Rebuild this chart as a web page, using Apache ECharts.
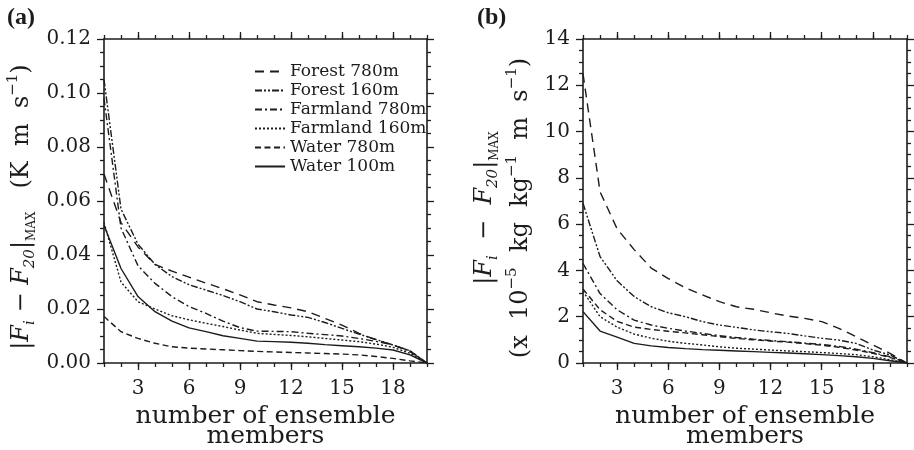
<!DOCTYPE html>
<html>
<head>
<meta charset="utf-8">
<script src="https://cdn.jsdelivr.net/npm/echarts@6/dist/echarts.min.js"></script>
<style>
  html, body { margin: 0; padding: 0; background: #ffffff; }
  #chart { width: 914px; height: 450px; }
</style>
</head>
<body>
<div id="chart"></div>
<script>
// Ensemble size on the x axis
const members = [1, 2, 3, 4, 5, 6, 7, 8, 9, 10, 11, 12, 13, 14, 15, 16, 17, 18, 19, 20];
const xTickValues = [3, 6, 9, 12, 15, 18];

const seriesNames = ['Forest 780m', 'Forest 160m', 'Farmland 780m', 'Farmland 160m', 'Water 780m', 'Water 100m'];

// (a) heat flux convergence, K m s^-1
const heatForest780   = [0.070, 0.052, 0.043, 0.0365, 0.034, 0.0318, 0.0296, 0.0275, 0.0252, 0.0227, 0.0215, 0.0204, 0.0190, 0.0165, 0.0140, 0.0110, 0.0086, 0.0066, 0.0045, 0];
const heatForest160   = [0.105, 0.057, 0.044, 0.0365, 0.032, 0.0290, 0.0270, 0.0250, 0.0227, 0.0200, 0.0190, 0.0178, 0.0169, 0.0150, 0.0128, 0.0107, 0.0087, 0.0067, 0.0045, 0];
const heatFarmland780 = [0.098, 0.050, 0.036, 0.0295, 0.0246, 0.0209, 0.0184, 0.0155, 0.0131, 0.0118, 0.0117, 0.0116, 0.0110, 0.0105, 0.0100, 0.0091, 0.0080, 0.0067, 0.0042, 0];
const heatFarmland160 = [0.052, 0.030, 0.0227, 0.0200, 0.0175, 0.0160, 0.0147, 0.0135, 0.0122, 0.0110, 0.0106, 0.0102, 0.0097, 0.0091, 0.0085, 0.0079, 0.0070, 0.0058, 0.0036, 0];
const heatWater780    = [0.0172, 0.0116, 0.0091, 0.0073, 0.0060, 0.0055, 0.0052, 0.0049, 0.0046, 0.0043, 0.0041, 0.0039, 0.0037, 0.0035, 0.0033, 0.0030, 0.0024, 0.0017, 0.0008, 0];
const heatWater100    = [0.051, 0.035, 0.0246, 0.0190, 0.0155, 0.0130, 0.0116, 0.0101, 0.0091, 0.0081, 0.0079, 0.0077, 0.0073, 0.0068, 0.0064, 0.0060, 0.0055, 0.0048, 0.0030, 0];

// (b) moisture flux convergence, x 10^-5 kg kg^-1 m s^-1
const moistForest780   = [12.5, 7.4, 5.8, 4.9, 4.1, 3.65, 3.25, 2.94, 2.65, 2.43, 2.32, 2.17, 2.03, 1.93, 1.79, 1.50, 1.14, 0.78, 0.42, 0];
const moistForest160   = [6.9, 4.6, 3.55, 2.87, 2.43, 2.17, 2.00, 1.79, 1.64, 1.54, 1.43, 1.35, 1.28, 1.17, 1.07, 0.99, 0.85, 0.56, 0.35, 0];
const moistFarmland780 = [4.3, 3.0, 2.3, 1.85, 1.64, 1.50, 1.38, 1.28, 1.18, 1.10, 1.03, 0.97, 0.92, 0.86, 0.80, 0.72, 0.60, 0.45, 0.27, 0];
const moistFarmland160 = [3.1, 2.0, 1.55, 1.25, 1.07, 0.94, 0.85, 0.78, 0.70, 0.64, 0.60, 0.56, 0.52, 0.49, 0.45, 0.41, 0.36, 0.27, 0.14, 0];
const moistWater780    = [3.2, 2.3, 1.8, 1.55, 1.45, 1.37, 1.30, 1.22, 1.14, 1.06, 1.00, 0.95, 0.90, 0.84, 0.77, 0.68, 0.56, 0.42, 0.24, 0];
const moistWater100    = [2.22, 1.38, 1.12, 0.85, 0.74, 0.67, 0.62, 0.58, 0.55, 0.52, 0.49, 0.46, 0.43, 0.40, 0.36, 0.32, 0.27, 0.20, 0.10, 0];

const panelA = [heatForest780, heatForest160, heatFarmland780, heatFarmland160, heatWater780, heatWater100];
const panelB = [moistForest780, moistForest160, moistFarmland780, moistFarmland160, moistWater780, moistWater100];

const INK = '#1c1c1c';
const FONT = 'DejaVu Serif';

// line patterns per site
const dashes = {
  'Forest 780m':   [9, 6],
  'Forest 160m':   [7, 2, 2, 2, 2, 2],
  'Farmland 780m': [7, 3, 2, 3],
  'Farmland 160m': [2, 2],
  'Water 780m':    [6, 3.5],
  'Water 100m':    'solid'
};

// fixed plot boxes; no automatic shrinking to fit the axis names
const grids = [
  { left: 104, top: 39, width: 323, height: 324, containLabel: false, outerBoundsMode: 'none' },
  { left: 583, top: 39, width: 324, height: 324, containLabel: false, outerBoundsMode: 'none' }
];

const frameLine = { show: true, onZero: false, lineStyle: { color: INK, width: 1.6 } };
const tickStyle = { color: INK, width: 1.3 };

function xAxesFor(g) {
  const base = { type: 'value', gridIndex: g, min: 1, max: 20, splitLine: { show: false } };
  return [
    Object.assign({}, base, {
      position: 'bottom',
      axisLine: frameLine,
      axisTick: { show: true, customValues: xTickValues, length: 7, lineStyle: tickStyle },
      axisLabel: { customValues: xTickValues, margin: 16, fontSize: 20, fontFamily: FONT, color: INK },
      name: 'number of ensemble\nmembers',
      nameLocation: 'middle',
      nameGap: 42,
      nameTextStyle: { fontSize: 25, fontFamily: FONT, color: INK, lineHeight: 20 }
    }),
    Object.assign({}, base, {
      position: 'bottom', interval: 1,
      axisLine: { show: false, onZero: false },
      axisTick: { show: true, length: 4, lineStyle: tickStyle },
      axisLabel: { show: false }
    }),
    Object.assign({}, base, {
      position: 'top',
      axisLine: frameLine,
      axisTick: { show: true, customValues: xTickValues, length: 7, lineStyle: tickStyle },
      axisLabel: { show: false }
    }),
    Object.assign({}, base, {
      position: 'top', interval: 1,
      axisLine: { show: false, onZero: false },
      axisTick: { show: true, length: 4, lineStyle: tickStyle },
      axisLabel: { show: false }
    })
  ];
}

function yAxesFor(g, max, step, fmt) {
  const base = {
    type: 'value', gridIndex: g, min: 0, max: max, interval: step,
    splitLine: { show: false },
    axisLine: frameLine,
    axisTick: { show: true, length: 7, lineStyle: tickStyle },
    minorTick: { show: true, splitNumber: 4, length: 4, lineStyle: tickStyle }
  };
  return [
    Object.assign({}, base, {
      position: 'left',
      axisLabel: { formatter: fmt, margin: 13, fontSize: 20, fontFamily: FONT, color: INK }
    }),
    Object.assign({}, base, { position: 'right', axisLabel: { show: false } })
  ];
}

function seriesFor(g, values) {
  return seriesNames.map((name, k) => ({
    type: 'line',
    name: name,
    xAxisIndex: g * 4,
    yAxisIndex: g * 2,
    symbol: 'none',
    silent: true,
    data: members.map((m, j) => [m, values[k][j]]),
    lineStyle: { color: INK, width: 1.4, type: dashes[name] }
  }));
}

const rich = {
  n:  { fontSize: 24, fontFamily: FONT, fill: INK, lineHeight: 32, verticalAlign: 'middle' },
  i:  { fontSize: 24, fontFamily: FONT, fontStyle: 'italic', fill: INK, lineHeight: 32, verticalAlign: 'middle' },
  sb: { fontSize: 15, fontFamily: FONT, fontStyle: 'italic', fill: INK, lineHeight: 18, verticalAlign: 'bottom' },
  sc: { fontSize: 12, fontFamily: FONT, fill: INK, lineHeight: 18, verticalAlign: 'bottom' },
  sp: { fontSize: 15, fontFamily: FONT, fill: INK, lineHeight: 18, verticalAlign: 'top' }
};

const fluxDiffTight = '{n||}{i|F}{sb|i}{n| − }{i|F}{sb|20}{n||}{sc|MAX}';
const fluxDiffWide = '{n||}{i|F}{sb|i}{n|  −  }{i|F}{sb|20}{n||}{sc|MAX}';
const titleA = fluxDiffTight + '{n|   (K  m  s}{sp|−1}{n|)}';
const titleB2 = '{n|(x  10}{sp|−5}{n|  kg  kg}{sp|−1}{n|  m  s}{sp|−1}{n|)}';

function rotatedTitle(x, y, text) {
  return {
    type: 'text', x: x, y: y, rotation: Math.PI / 2, silent: true,
    style: { text: text, rich: rich, align: 'center', verticalAlign: 'middle', fill: INK }
  };
}

const chart = echarts.init(document.getElementById('chart'), null, { renderer: 'canvas' });
chart.setOption({
  animation: false,
  backgroundColor: '#ffffff',
  grid: grids,
  xAxis: xAxesFor(0).concat(xAxesFor(1)),
  yAxis: yAxesFor(0, 0.12, 0.02, v => v.toFixed(2)).concat(yAxesFor(1, 14, 2, v => String(v))),
  legend: {
    data: seriesNames,
    orient: 'vertical',
    left: 254, top: 62,
    padding: 0, itemGap: 0,
    itemWidth: 30, itemHeight: 19,
    selectedMode: false,
    itemStyle: { color: 'rgba(0,0,0,0)', borderWidth: 0 },
    textStyle: { fontSize: 17, fontFamily: FONT, color: INK, lineHeight: 19 }
  },
  graphic: [
    { type: 'text', left: 7, top: 6, silent: true,
      style: { text: '(a)', font: 'bold 24px "Liberation Serif"', fill: INK } },
    { type: 'text', left: 477, top: 6, silent: true,
      style: { text: '(b)', font: 'bold 24px "Liberation Serif"', fill: INK } },
    rotatedTitle(22, 207, titleA),
    rotatedTitle(485, 208, fluxDiffWide),
    rotatedTitle(521, 208, titleB2)
  ],
  series: seriesFor(0, panelA).concat(seriesFor(1, panelB))
});
</script>
</body>
</html>
